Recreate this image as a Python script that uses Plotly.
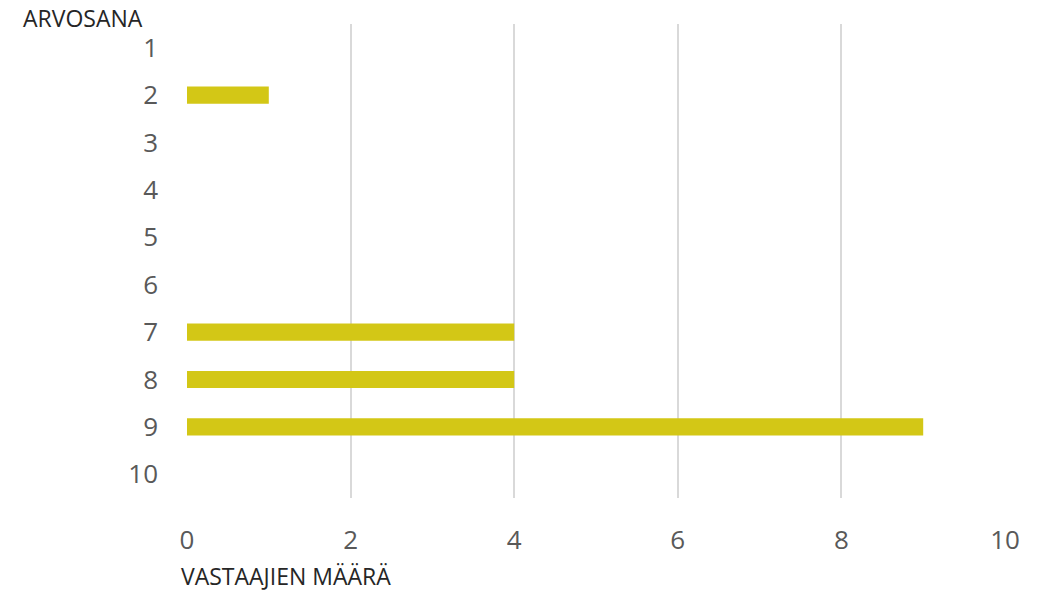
import plotly.graph_objects as go

categories = ["1", "2", "3", "4", "5", "6", "7", "8", "9", "10"]
values = [0, 1, 0, 0, 0, 0, 4, 4, 9, 0]
x_ticks = [0, 2, 4, 6, 8, 10]

fig = go.Figure(go.Bar(
    y=categories, x=values, orientation="h",
    marker=dict(color="#D3C716", line=dict(width=0)),
    width=0.36,
))

fig.update_layout(
    width=1041, height=593,
    margin=dict(l=187, r=36, t=24, b=95),
    plot_bgcolor="white", paper_bgcolor="white",
    font=dict(family="Open Sans", color="#595959", size=26),
    showlegend=False,
    xaxis=dict(range=[0, 10], tickvals=x_ticks, showgrid=True, gridcolor="#D9D9D9", gridwidth=2,
               zeroline=False, showline=False, ticks="", ticklabelstandoff=24,
               tickfont=dict(size=26, color="#595959")),
    yaxis=dict(categoryorder="array", categoryarray=categories, autorange="reversed",
               showgrid=False, zeroline=False, showline=False, ticks="", ticklabelstandoff=28,
               tickfont=dict(size=26, color="#595959")),
    annotations=[
        dict(text="ARVOSANA", xref="paper", yref="paper", x=-187/818, y=1 + 6/474,
             xanchor="left", yanchor="middle", xshift=21, showarrow=False,
             font=dict(family="Open Sans", size=23, color="#262626")),
        dict(text="VASTAAJIEN MÄÄRÄ", xref="paper", yref="paper", x=0, y=0,
             xanchor="left", yanchor="middle", xshift=-8, yshift=-78, showarrow=False,
             font=dict(family="Open Sans", size=23, color="#262626")),
    ],
)

fig.write_html("out.html")
